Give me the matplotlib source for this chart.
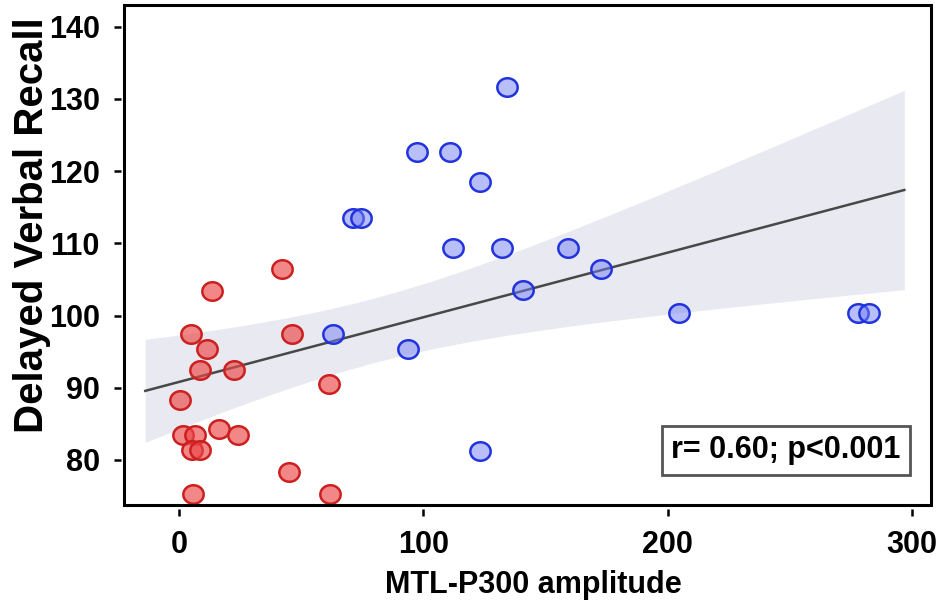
# =============================================================================
# Import Libraries
# =============================================================================
import numpy as np
from matplotlib import pyplot as plt
from matplotlib.patches import Rectangle
from matplotlib.path import Path

# =============================================================================
# Data
# =============================================================================
red_x = [41.9, 13.4, 4.8, 46.0, 11.5, 8.6, 22.3, 0.4, 1.4, 6.3, 16.3, 24.0,
         5.1, 8.6, 44.7, 5.6, 61.3, 61.7]
red_y = [106.4, 103.4, 97.4, 97.4, 95.4, 92.4, 92.4, 88.3, 83.4, 83.4, 84.3, 83.4,
         81.4, 81.4, 78.3, 75.3, 90.5, 75.3]

blue_x = [134.2, 97.5, 110.9, 123.2, 71.3, 74.6, 112.0, 132.2, 159.4, 172.8,
          140.7, 63.1, 93.7, 123.2, 204.6, 278.2, 282.5]
blue_y = [131.6, 122.6, 122.6, 118.5, 113.5, 113.5, 109.4, 109.4, 109.4, 106.4,
          103.5, 97.4, 95.4, 81.3, 100.4, 100.4, 100.4]

x_ticks = [0, 100, 200, 300]
y_ticks = [80, 90, 100, 110, 120, 130, 140]
fit_range = (-14, 297)
stats_text = "r= 0.60; p<0.001"

plt.rcParams['font.family'] = ['Liberation Sans', 'DejaVu Sans']
plt.rcParams['font.weight'] = 'bold'

# =============================================================================
# Linear fit with 95% confidence band
# =============================================================================
def fit_with_ci(x, y, grid):
    x = np.asarray(x)
    y = np.asarray(y)
    n = len(x)
    slope, intercept = np.polyfit(x, y, 1)
    resid = y - (slope * x + intercept)
    s = np.sqrt(np.sum(resid ** 2) / (n - 2))
    sxx = np.sum((x - x.mean()) ** 2)
    t = 2.035  # t(0.975, df=33)
    yhat = slope * grid + intercept
    half = t * s * np.sqrt(1 / n + (grid - x.mean()) ** 2 / sxx)
    return yhat, yhat - half, yhat + half

# ellipse marker, slightly wider than tall
theta = np.linspace(0, 2 * np.pi, 60)
ellipse = Path(np.column_stack([1.1 * np.cos(theta), np.sin(theta)]), closed=True)

# =============================================================================
# Plot
# =============================================================================
fig = plt.figure(figsize=(9.36, 6.03), dpi=100)
ax = fig.add_axes([0.1325, 0.1617, 0.8618, 0.8300])

all_x = red_x + blue_x
all_y = red_y + blue_y
grid = np.linspace(fit_range[0], fit_range[1], 200)
yhat, lo, hi = fit_with_ci(all_x, all_y, grid)

ax.fill_between(grid, lo, hi, color="#e9e9f1", lw=0, zorder=1)
ax.plot(grid, yhat, color="#484848", lw=1.8, zorder=2)

ax.scatter(red_x, red_y, s=215, marker=ellipse, facecolor=(0.92, 0.28, 0.28, 0.65),
           edgecolor="#cc2020", linewidths=1.8, zorder=3)
ax.scatter(blue_x, blue_y, s=215, marker=ellipse, facecolor=(0.45, 0.5, 0.95, 0.5),
           edgecolor="#2233dd", linewidths=1.8, zorder=3)

ax.set_xlim(-22.7, 307.8)
ax.set_ylim(73.7, 143.0)
ax.set_xticks(x_ticks)
ax.set_yticks(y_ticks)

# frame drawn separately so that the ticks sit detached from it
for side in ['left', 'bottom']:
    ax.spines[side].set_position(('outward', 2.5))
for side in ax.spines:
    ax.spines[side].set_visible(False)
ax.add_patch(Rectangle((0, 0), 1, 1, transform=ax.transAxes, fill=False,
                       lw=2.2, edgecolor="black", clip_on=False, zorder=5))

ax.tick_params(axis='both', length=5, width=1.8, pad=10, labelsize=22, color="black")

ax.set_xlabel("MTL-P300 amplitude", fontsize=22, fontweight='bold')
ax.set_ylabel("Delayed Verbal Recall", fontsize=29, fontweight='bold')
ax.xaxis.set_label_coords(0.508, -0.128)
ax.yaxis.set_label_coords(-0.09, 0.56)

ax.text(0.963, 0.11, stats_text, transform=ax.transAxes, ha='right', va='center',
        fontsize=22, fontweight='bold',
        bbox=dict(boxstyle='square,pad=0.3', facecolor='white', edgecolor='#555555', lw=2))

fig.savefig("out.png", dpi=100)
